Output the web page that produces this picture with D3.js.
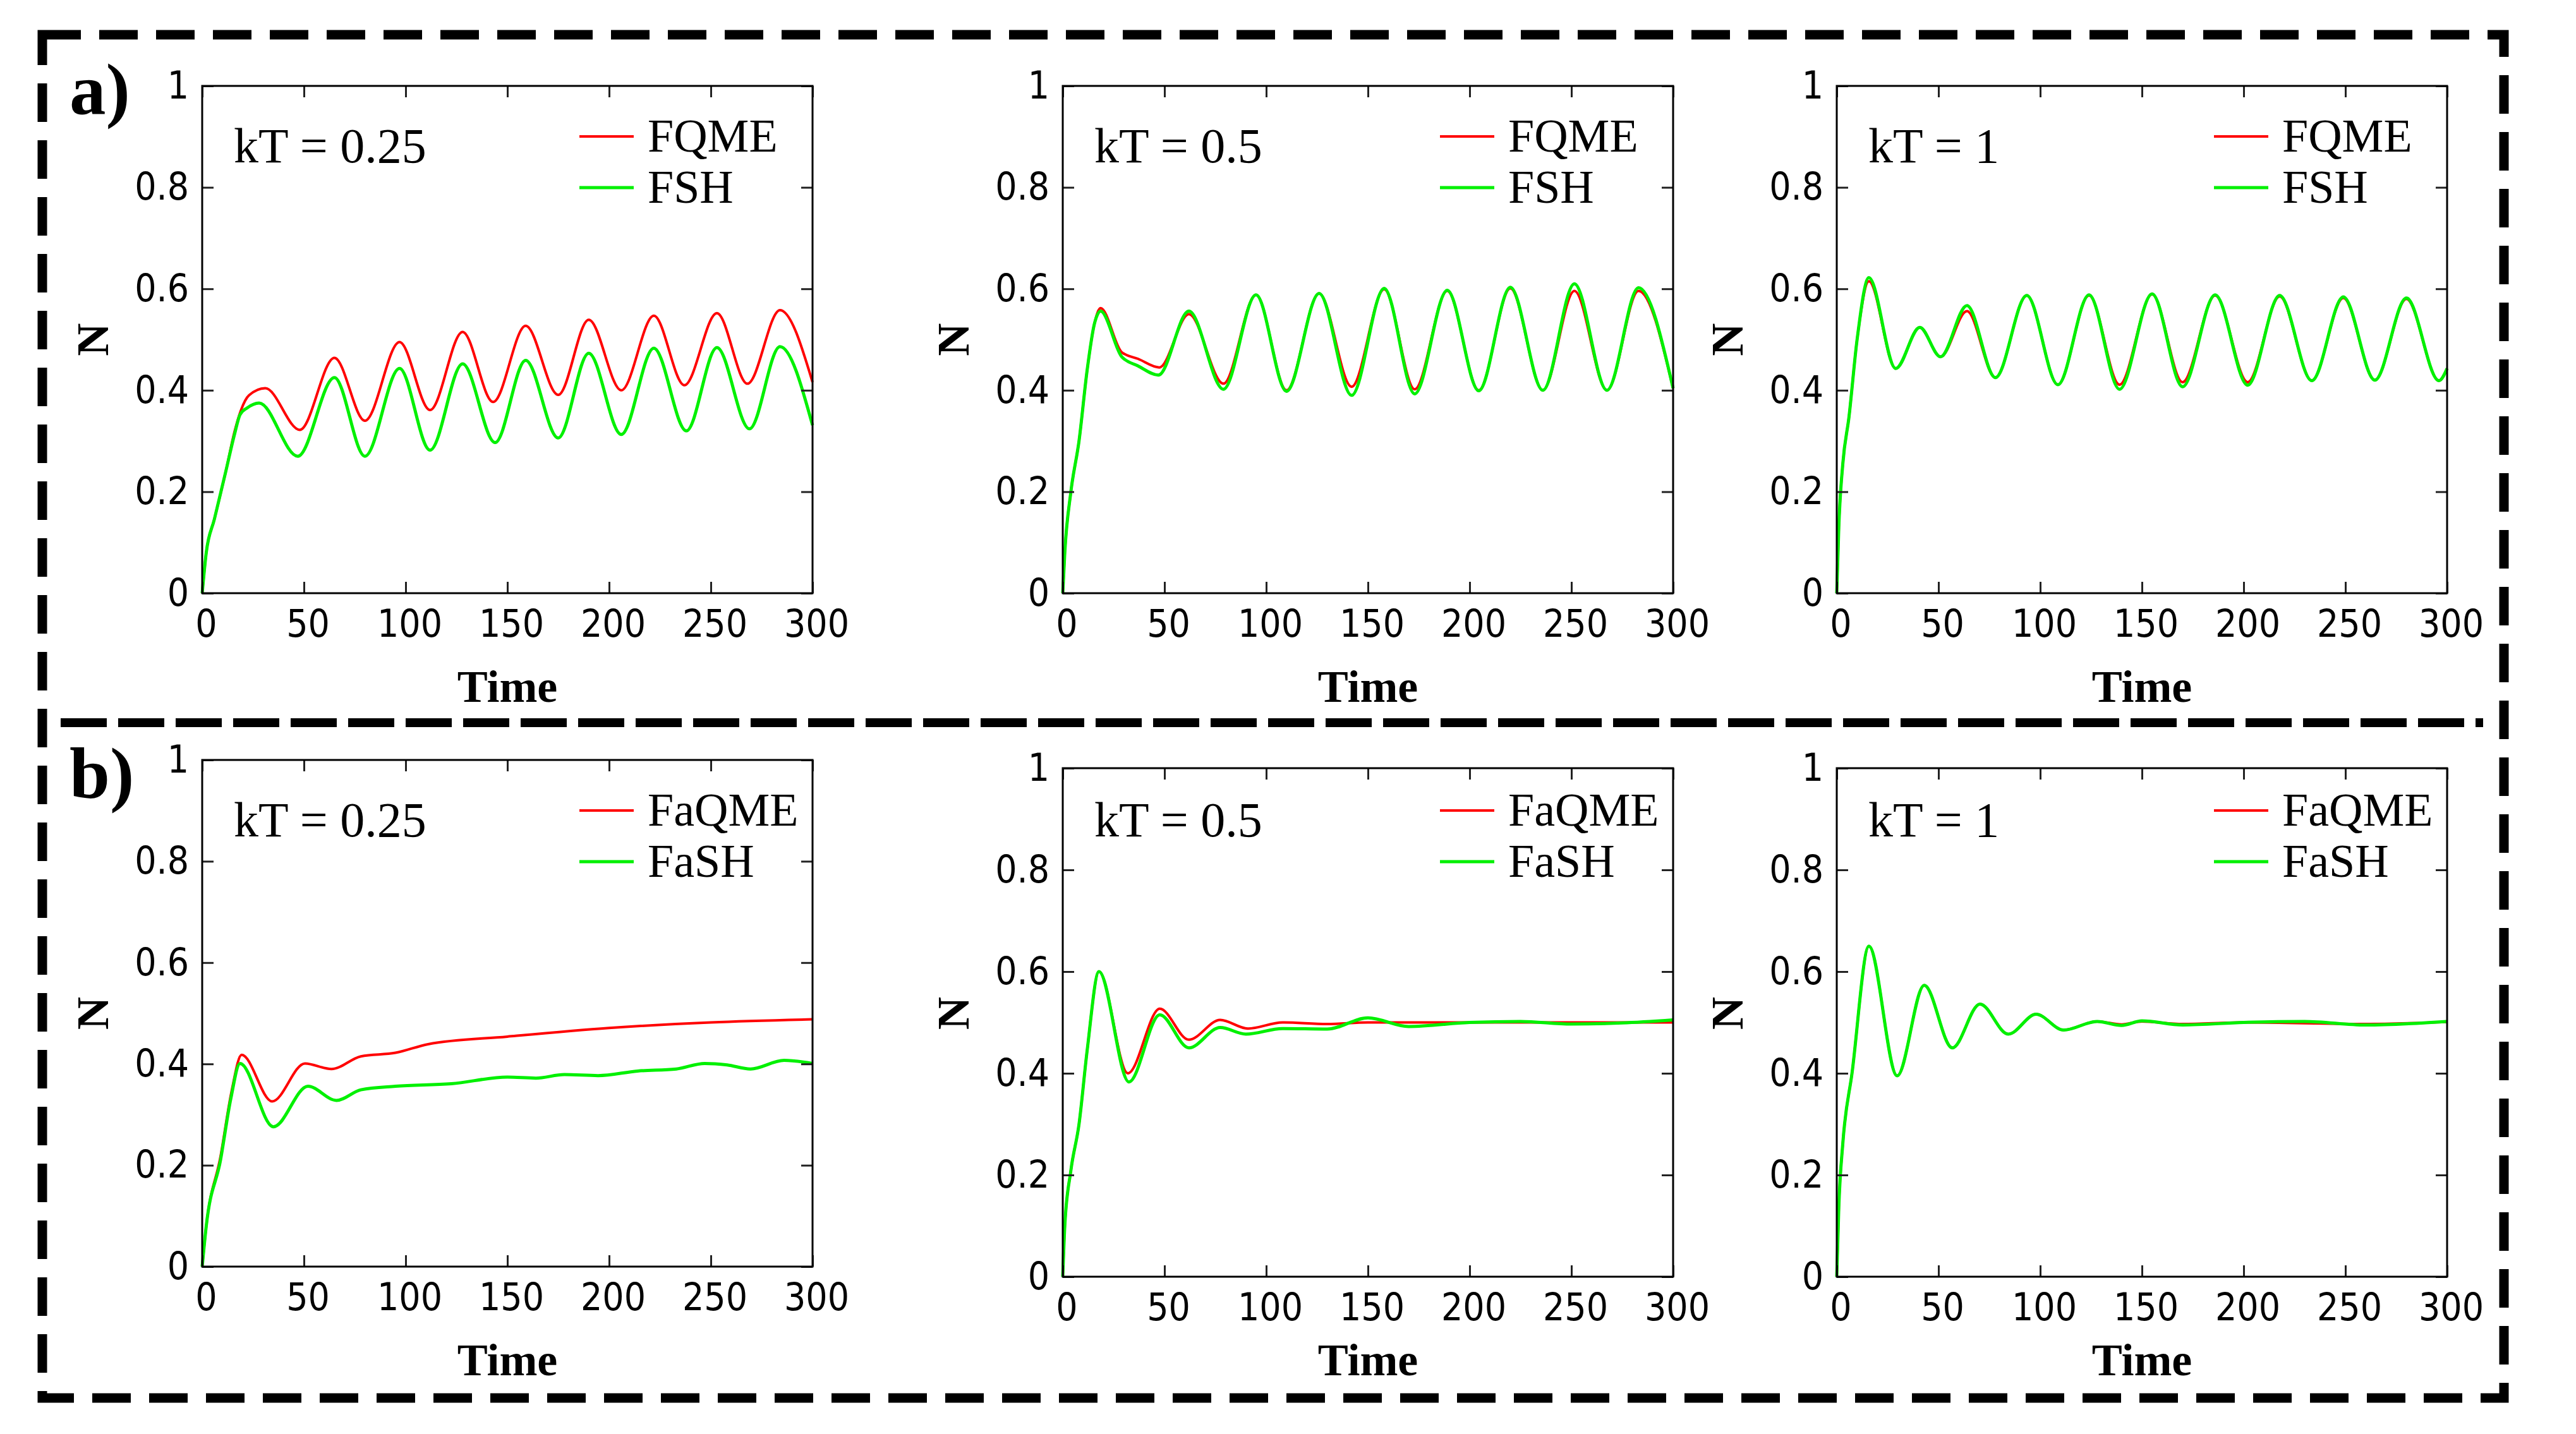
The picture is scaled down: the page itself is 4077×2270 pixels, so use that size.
<!DOCTYPE html>
<html>
<head>
<meta charset="utf-8">
<script src="https://cdn.jsdelivr.net/npm/d3@7"></script>
<style>
  html, body { margin: 0; padding: 0; background: #fff; }
  .tick text { font-family: "DejaVu Sans", "Liberation Sans", sans-serif; font-stretch: condensed; }
</style>
</head>
<body>
<div id="chart"></div>
<script>
// ---- data: [time, N] ----
var a1FQME = [[0,0],[2,0.08],[6,0.146],[11.6,0.24],[16,0.32],[19,0.36],[23,0.39],[31,0.404],[48,0.322],[65,0.464],[80,0.34],[97,0.495],[112,0.361],[128,0.515],[143,0.377],[159,0.527],[175,0.391],[190,0.539],[206,0.40],[222,0.547],[237,0.41],[253,0.552],[268,0.413],[284,0.558],[300,0.416]];
var a1FSH = [[0,0],[2,0.08],[6,0.146],[11.6,0.24],[16,0.315],[18.6,0.352],[22,0.365],[28,0.375],[47,0.27],[65,0.425],[80,0.27],[97,0.443],[112,0.282],[128,0.452],[144,0.297],[159,0.459],[175,0.306],[190,0.473],[206,0.313],[222,0.483],[238,0.32],[253,0.484],[269,0.324],[284,0.486],[300,0.331]];

var a2FQME = [[0,0],[1,0.08],[4,0.2],[8,0.30],[12,0.44],[15.5,0.53],[18.6,0.562],[29,0.475],[37,0.462],[47.5,0.445],[62,0.55],[79,0.413],[95,0.588],[110,0.40],[126,0.591],[142,0.407],[158,0.599],[173,0.402],[189,0.596],[204.5,0.40],[220,0.601],[236,0.40],[251.5,0.596],[267.5,0.40],[283,0.596],[300,0.404]];
var a2FSH = [[0,0],[1,0.08],[4,0.2],[8,0.30],[12,0.44],[15.5,0.53],[18.6,0.556],[29,0.466],[37,0.448],[47,0.43],[62,0.556],[79,0.402],[95,0.588],[110,0.398],[126,0.591],[142,0.39],[158,0.601],[173,0.393],[189,0.597],[204.5,0.399],[220,0.603],[236,0.40],[251.5,0.61],[267.5,0.40],[283,0.602],[300,0.404]];

var a3FQME = [[0,0],[1,0.13],[3,0.256],[6,0.347],[10,0.5],[15.8,0.615],[29,0.443],[40.8,0.524],[51,0.466],[64,0.556],[78,0.425],[93.4,0.587],[108.7,0.411],[124,0.587],[139,0.411],[155,0.589],[170,0.416],[186,0.587],[202,0.416],[217.7,0.585],[233.5,0.419],[249,0.582],[264.5,0.42],[280,0.58],[296,0.419],[300,0.443]];
var a3FSH = [[0,0],[1,0.13],[3,0.256],[6,0.347],[10,0.5],[15.8,0.622],[29,0.443],[40.8,0.524],[51,0.466],[64,0.567],[78,0.425],[93.4,0.587],[108.7,0.411],[124,0.588],[139,0.402],[155,0.59],[170,0.407],[186,0.588],[202,0.41],[217.7,0.587],[233.5,0.419],[249,0.584],[264.5,0.42],[280,0.582],[296,0.419],[300,0.443]];

var b1FaQME = [[0,0],[2,0.08],[9,0.217],[14.4,0.345],[19.4,0.418],[34.4,0.326],[50.5,0.401],[63.5,0.39],[78,0.415],[95,0.422],[111,0.439],[150,0.454],[200,0.471],[250,0.482],[300,0.488]];
var b1FaSH = [[0,0],[2,0.08],[9,0.21],[14,0.33],[18.6,0.401],[35,0.276],[52,0.356],[66,0.328],[78,0.349],[95,0.356],[122.5,0.361],[150,0.374],[164,0.372],[178,0.379],[194.6,0.377],[214,0.386],[233,0.39],[247,0.401],[258,0.398],[269.5,0.39],[286,0.407],[300,0.401]];

var b2FaQME = [[0,0],[1,0.1],[4,0.209],[8,0.30],[12,0.445],[17.8,0.60],[32,0.40],[47.7,0.527],[62,0.466],[77.4,0.505],[91,0.488],[108,0.50],[130,0.497],[150,0.50],[200,0.50],[250,0.50],[300,0.50]];
var b2FaSH = [[0,0],[1,0.1],[4,0.209],[8,0.30],[12,0.445],[17.8,0.60],[32.5,0.383],[47.7,0.515],[62,0.45],[77.4,0.49],[90,0.477],[108,0.488],[130,0.487],[150,0.509],[170,0.492],[200,0.50],[225,0.502],[250,0.497],[275,0.499],[300,0.505]];

var b3FaQME = [[0,0],[1,0.136],[3,0.263],[7.5,0.4],[15.8,0.65],[29.7,0.395],[43,0.573],[56.8,0.45],[70.4,0.536],[84.3,0.477],[98,0.516],[111.5,0.485],[128,0.502],[140,0.496],[150,0.502],[170,0.497],[200,0.50],[260,0.497],[300,0.501]];
var b3FaSH = [[0,0],[1,0.136],[3,0.263],[7.5,0.4],[15.8,0.65],[29.7,0.395],[43,0.573],[56.8,0.45],[70.4,0.536],[84.3,0.477],[98,0.516],[111.5,0.485],[128,0.502],[140,0.494],[150,0.503],[170,0.495],[200,0.50],[230,0.502],[260,0.495],[300,0.502]];

var kTLabels = ["kT = 0.25", "kT = 0.5", "kT = 1"];
var legendA = ["FQME", "FSH"];
var legendB = ["FaQME", "FaSH"];
var rowLabels = ["a)", "b)"];
var timeTicks = [0, 50, 100, 150, 200, 250, 300];
var nTicks = [0, 0.2, 0.4, 0.6, 0.8, 1];

// ---- layout (pixels of the 4077x2270 picture) ----
var svgWidth = 4077;
var svgHeight = 2270;
var plotWidth = 966;
var panelLeft = [320, 1682, 2907];
// rowTop / rowHeight: where text sits; tops / heights: the actual plot frames
var rows = [
  { rowTop: 136, rowHeight: 803, tops: [136, 136, 136], heights: [803, 803, 803], legend: legendA, series: [[a1FQME, a1FSH], [a2FQME, a2FSH], [a3FQME, a3FSH]] },
  { rowTop: 1203, rowHeight: 802, tops: [1203, 1216, 1216], heights: [802, 805, 805], legend: legendB, series: [[b1FaQME, b1FaSH], [b2FaQME, b2FaSH], [b3FaQME, b3FaSH]] }
];
var colors = ["#ff0000", "#00f000"];
var widths = [4, 5];
var serif = "'Liberation Serif', 'Times New Roman', serif";

var svg = d3.select("#chart")
  .append("svg")
  .attr("width", svgWidth)
  .attr("height", svgHeight)
  .attr("viewBox", `0 0 ${svgWidth} ${svgHeight}`);

svg.append("rect")
  .attr("width", svgWidth)
  .attr("height", svgHeight)
  .attr("fill", "#fff");

// dashed outer frame and divider
svg.append("rect")
  .attr("x", 67)
  .attr("y", 55)
  .attr("width", 3963 - 67)
  .attr("height", 2213 - 55)
  .attr("fill", "none")
  .attr("stroke", "#000")
  .attr("stroke-width", 15)
  .attr("stroke-dasharray", "61 29");

svg.append("line")
  .attr("x1", 96)
  .attr("x2", 3930)
  .attr("y1", 1144)
  .attr("y2", 1144)
  .attr("stroke", "#000")
  .attr("stroke-width", 14)
  .attr("stroke-dasharray", "73 18");

// row labels
svg.selectAll(".row-label")
  .data(rowLabels)
  .enter()
  .append("text")
  .attr("class", "row-label")
  .attr("x", 110)
  .attr("y", (d, i) => i === 0 ? 180 : 1263)
  .attr("font-family", serif)
  .attr("font-weight", "bold")
  .attr("font-size", 115)
  .text(d => d);

rows.forEach(function(row) {
  row.series.forEach(function(pair, col) {
    var left = panelLeft[col];
    var top = row.tops[col];
    var height = row.heights[col];
    var shift = row.rowTop - top;   // keeps text aligned along the row

    var x = d3.scaleLinear().domain([0, 300]).range([0, plotWidth]);
    var y = d3.scaleLinear().domain([0, 1]).range([height, 0]);

    var g = svg.append("g")
      .attr("transform", `translate(${left}, ${top})`);

    // data lines (red first, green on top)
    var line = d3.line()
      .x(d => x(d[0]))
      .y(d => y(d[1]))
      .curve(d3.curveMonotoneX);

    pair.forEach(function(data, k) {
      g.append("path")
        .datum(data)
        .attr("d", line)
        .attr("fill", "none")
        .attr("stroke", colors[k])
        .attr("stroke-width", widths[k])
        .attr("stroke-linejoin", "round");
    });

    // axes with inward ticks on all sides
    var bottomAxis = d3.axisBottom(x).tickValues(timeTicks).tickSize(-18).tickPadding(26);
    var topAxis = d3.axisTop(x).tickValues(timeTicks).tickSize(-18).tickFormat("");
    var leftAxis = d3.axisLeft(y).tickValues(nTicks).tickSize(-18).tickPadding(21).tickFormat(d => d);
    var rightAxis = d3.axisRight(y).tickValues(nTicks).tickSize(-18).tickFormat("");

    var axes = [
      g.append("g").attr("transform", `translate(0, ${height})`).call(bottomAxis),
      g.append("g").call(topAxis),
      g.append("g").call(leftAxis),
      g.append("g").attr("transform", `translate(${plotWidth}, 0)`).call(rightAxis)
    ];
    axes.forEach(function(a) {
      a.select(".domain").remove();
      a.selectAll(".tick line").attr("stroke", "#222").attr("stroke-width", 3);
      a.selectAll(".tick text").attr("font-size", 60).attr("fill", "#000");
    });
    axes[0].selectAll(".tick text").attr("dx", 6);

    g.append("rect")
      .attr("width", plotWidth)
      .attr("height", height)
      .attr("fill", "none")
      .attr("stroke", "#000")
      .attr("stroke-width", 3);

    // kT annotation
    g.append("text")
      .attr("x", 50)
      .attr("y", shift + 121)
      .attr("font-family", serif)
      .attr("font-size", 78)
      .text(kTLabels[col]);

    // legend
    row.legend.forEach(function(name, k) {
      g.append("line")
        .attr("x1", 597)
        .attr("x2", 683)
        .attr("y1", shift + 80 + k * 81)
        .attr("y2", shift + 80 + k * 81)
        .attr("stroke", colors[k])
        .attr("stroke-width", widths[k]);
      g.append("text")
        .attr("x", 705)
        .attr("y", shift + 104 + k * 81)
        .attr("font-family", serif)
        .attr("font-size", 74)
        .text(name);
    });

    // axis titles
    g.append("text")
      .attr("transform", `translate(-173, ${shift + row.rowHeight / 2}) rotate(-90)`)
      .attr("text-anchor", "middle")
      .attr("dominant-baseline", "central")
      .attr("font-family", serif)
      .attr("font-weight", "bold")
      .attr("font-size", 72)
      .text("N");

    g.append("text")
      .attr("x", plotWidth / 2)
      .attr("y", shift + row.rowHeight + 172)
      .attr("text-anchor", "middle")
      .attr("font-family", serif)
      .attr("font-weight", "bold")
      .attr("font-size", 72)
      .text("Time");
  });
});
</script>
</body>
</html>
